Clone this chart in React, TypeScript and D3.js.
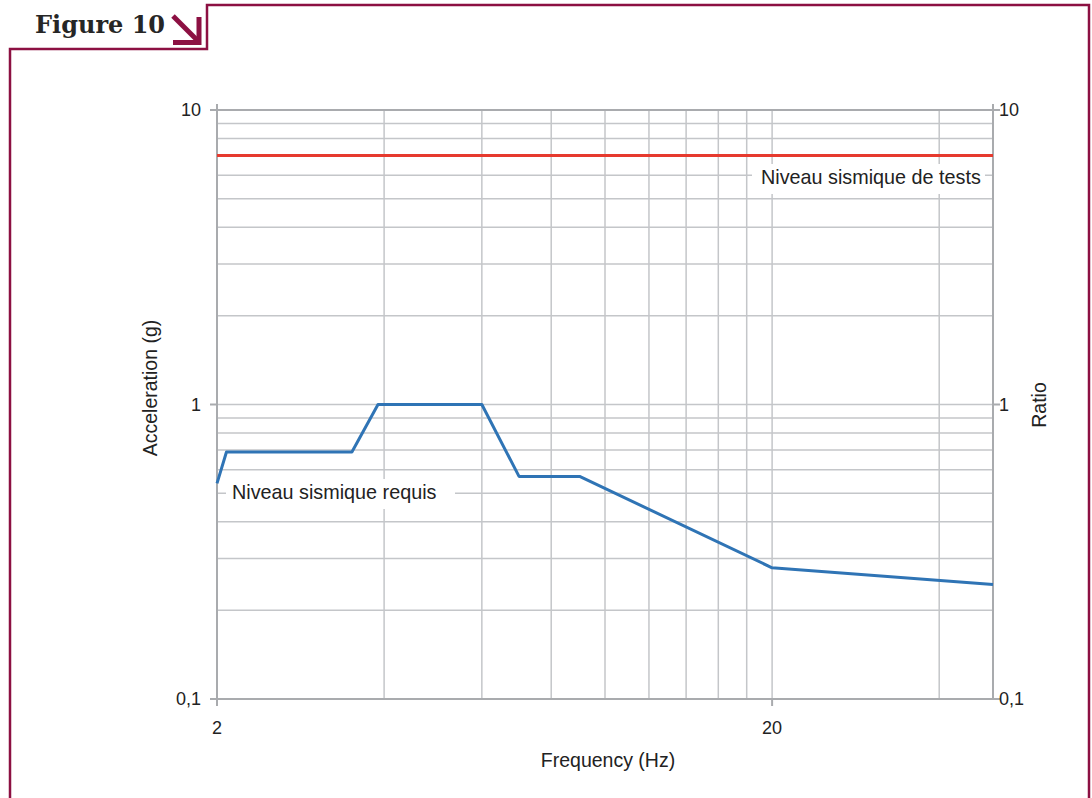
import React from "react";
import * as d3 from "d3";

const freqs = [2, 2.08, 3.5, 3.9, 6, 7, 9, 20, 50];
const requiredLevel = [0.54, 0.69, 0.69, 1.0, 1.0, 0.57, 0.57, 0.279, 0.245];
const testLevel = 7;
const xGridValues = [4, 6, 8, 10, 12, 14, 16, 18, 20, 40];
const yGridValues = [0.2, 0.3, 0.4, 0.5, 0.6, 0.7, 0.8, 0.9, 1, 2, 3, 4, 5, 6, 7, 8, 9];
const xTicks = [2, 20];
const xTickLabels = ["2", "20"];
const yTicks = [0.1, 1, 10];
const yTickLabels = ["0,1", "1", "10"];

const W = 1092;
const H = 798;
const left = 217, right = 993, top = 110, bottom = 699;
const maroon = "#8c1042";
const font = "'Liberation Sans', Arial, sans-serif";

export default function App() {
  const x = d3.scaleLog().domain([2, 50]).range([left, right]);
  const y = d3.scaleLog().domain([0.1, 10]).range([bottom, top]);
  const line = d3
    .line<number>()
    .x((_, i) => x(freqs[i]))
    .y((d) => y(d));
  const pathD = line(requiredLevel) || "";

  return (
    <svg
      width={W}
      height={H}
      style={{ position: "absolute", left: 0, top: 0, background: "#fff" }}
    >
      <rect x={0} y={0} width={W} height={H} fill="#fff" />
      {/* frame */}
      <path
        d={`M10,${H} L10,49 L207,49 L207,5 L1089,5 L1089,${H}`}
        fill="none"
        stroke={maroon}
        strokeWidth={2.5}
      />
      <text
        x={35}
        y={33}
        fontFamily="'DejaVu Serif', serif"
        fontWeight="bold"
        fontSize={24}
        fill="#262626"
      >
        Figure 10
      </text>
      {/* arrow */}
      <g stroke={maroon} strokeWidth={5} fill="none" strokeLinecap="butt">
        <line x1={173} y1={16} x2={197} y2={40} />
        <polyline points="173,42.5 199,42.5 199,17" />
      </g>

      {/* gridlines */}
      <g stroke="#c4c6c9" strokeWidth={1.5}>
        {yGridValues.map((v) => (
          <line key={"gy" + v} x1={left} x2={right} y1={y(v)} y2={y(v)} />
        ))}
        {xGridValues.map((v) => (
          <line key={"gx" + v} x1={x(v)} x2={x(v)} y1={top} y2={bottom} />
        ))}
      </g>
      {/* axes */}
      <g stroke="#a9abae" strokeWidth={2}>
        <line x1={left} x2={left} y1={top - 6} y2={bottom + 6} />
        <line x1={right} x2={right} y1={top - 6} y2={bottom} />
        <line x1={left} x2={right} y1={top} y2={top} />
        <line x1={left - 7} x2={right} y1={bottom} y2={bottom} />
        {yTicks.map((v) => (
          <g key={"ty" + v}>
            <line x1={left - 7} x2={left} y1={y(v)} y2={y(v)} />
            <line x1={right} x2={right + 7} y1={y(v)} y2={y(v)} />
          </g>
        ))}
        {xTicks.map((v) => (
          <line key={"tx" + v} x1={x(v)} x2={x(v)} y1={bottom} y2={bottom + 7} />
        ))}
      </g>

      {/* tick labels */}
      <g fontFamily={font} fontSize={18} fill="#222">
        {yTicks.map((v, i) => (
          <text key={"ly" + v} x={left - 16} y={y(v)} dy="0.35em" textAnchor="end">
            {yTickLabels[i]}
          </text>
        ))}
        {yTicks.map((v, i) => (
          <text key={"ry" + v} x={right + 6} y={y(v)} dy="0.35em" textAnchor="start">
            {yTickLabels[i]}
          </text>
        ))}
        {xTicks.map((v, i) => (
          <text key={"lx" + v} x={x(v)} y={bottom + 35} textAnchor="middle">
            {xTickLabels[i]}
          </text>
        ))}
      </g>
      <g fontFamily={font} fontSize={19.5} fill="#222">
        <text x={608} y={767} textAnchor="middle">
          Frequency (Hz)
        </text>
        <text transform={`translate(157,388) rotate(-90)`} textAnchor="middle">
          Acceleration (g)
        </text>
        <text transform={`translate(1046,405) rotate(-90)`} textAnchor="middle">
          Ratio
        </text>
      </g>

      {/* series */}
      <line
        x1={left}
        x2={right}
        y1={y(testLevel)}
        y2={y(testLevel)}
        stroke="#e63a2e"
        strokeWidth={3}
      />
      <path d={pathD} fill="none" stroke="#2f74b5" strokeWidth={3} strokeLinejoin="round" />

      {/* labels */}
      <rect x={752} y={164} width={233} height={30} fill="#fff" />
      <text x={761} y={184} fontFamily={font} fontSize={19.8} fill="#222">
        Niveau sismique de tests
      </text>
      <rect x={226} y={479} width={229} height={30} fill="#fff" />
      <text x={232} y={499} fontFamily={font} fontSize={19.8} fill="#222">
        Niveau sismique requis
      </text>
    </svg>
  );
}
